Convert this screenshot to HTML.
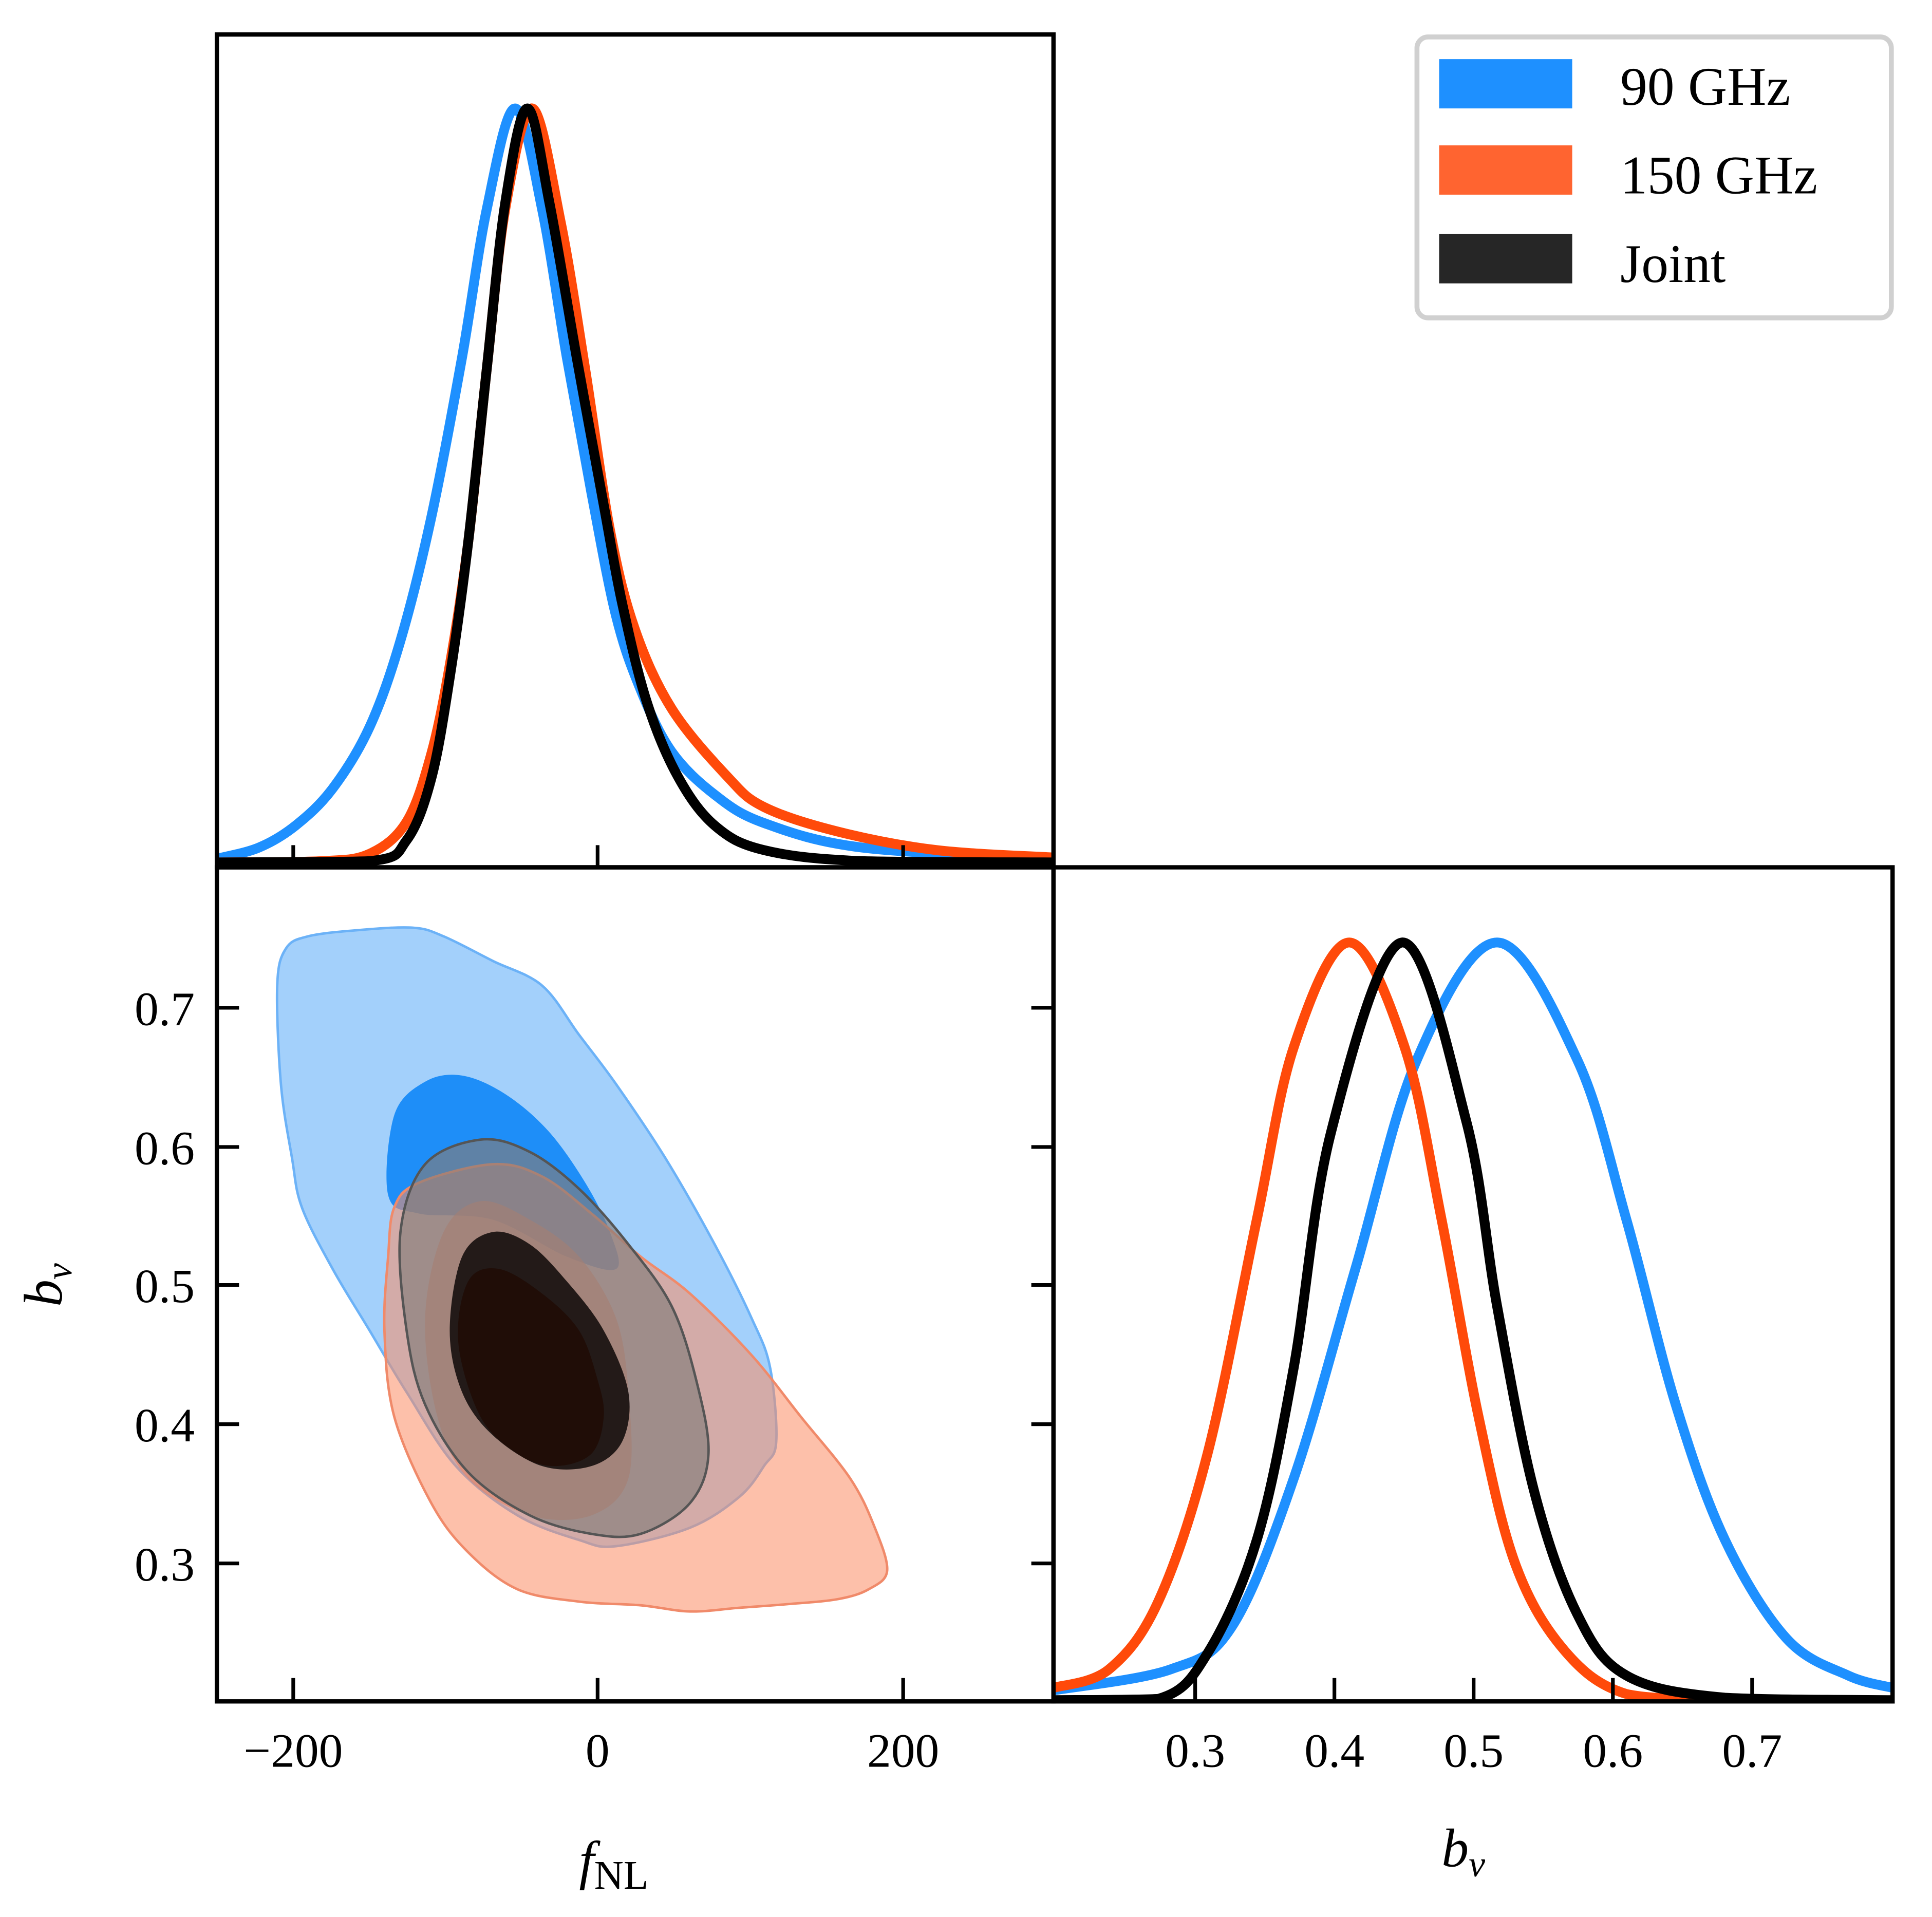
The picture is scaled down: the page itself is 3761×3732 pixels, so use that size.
<!DOCTYPE html>
<html><head><meta charset="utf-8"><style>
html,body{margin:0;padding:0;background:#fff}
svg{display:block}
text{font-family:"Liberation Serif",serif;fill:#000}
</style></head><body>
<svg id="s" width="3761" height="3732" viewBox="0 0 1568 1556" preserveAspectRatio="none" xmlns="http://www.w3.org/2000/svg">
<rect width="1568" height="1556" fill="#fff"/>
<defs><clipPath id="cl"><rect x="176" y="28" width="1360" height="1353"/></clipPath></defs>
<g id="contours"></g>
<g id="curves" clip-path="url(#cl)"></g>
<g fill="none" stroke="#000" stroke-width="3.5">
<rect x="176" y="28" width="679" height="676"/>
<rect x="176" y="704" width="679" height="677"/>
<rect x="855" y="704" width="681" height="677"/>
</g>
<g stroke="#000" stroke-width="3">
<line x1="238" y1="686" x2="238" y2="704"/><line x1="485" y1="686" x2="485" y2="704"/><line x1="733" y1="686" x2="733" y2="704"/>
<line x1="238" y1="1362" x2="238" y2="1381"/><line x1="485" y1="1362" x2="485" y2="1381"/><line x1="733" y1="1362" x2="733" y2="1381"/>
<line x1="176" y1="818" x2="194" y2="818"/><line x1="176" y1="931" x2="194" y2="931"/><line x1="176" y1="1043" x2="194" y2="1043"/><line x1="176" y1="1156" x2="194" y2="1156"/><line x1="176" y1="1269" x2="194" y2="1269"/>
<line x1="837" y1="818" x2="855" y2="818"/><line x1="837" y1="931" x2="855" y2="931"/><line x1="837" y1="1043" x2="855" y2="1043"/><line x1="837" y1="1156" x2="855" y2="1156"/><line x1="837" y1="1269" x2="855" y2="1269"/>
<line x1="970" y1="1362" x2="970" y2="1381"/><line x1="1083" y1="1362" x2="1083" y2="1381"/><line x1="1196" y1="1362" x2="1196" y2="1381"/><line x1="1309" y1="1362" x2="1309" y2="1381"/><line x1="1422" y1="1362" x2="1422" y2="1381"/>
</g>
<g font-size="39">
<text x="238" y="1434" text-anchor="middle">−200</text>
<text x="485" y="1434" text-anchor="middle">0</text>
<text x="733" y="1434" text-anchor="middle">200</text>
<text x="158" y="832" text-anchor="end">0.7</text>
<text x="158" y="945" text-anchor="end">0.6</text>
<text x="158" y="1057" text-anchor="end">0.5</text>
<text x="158" y="1170" text-anchor="end">0.4</text>
<text x="158" y="1283" text-anchor="end">0.3</text>
<text x="970" y="1434" text-anchor="middle">0.3</text>
<text x="1083" y="1434" text-anchor="middle">0.4</text>
<text x="1196" y="1434" text-anchor="middle">0.5</text>
<text x="1309" y="1434" text-anchor="middle">0.6</text>
<text x="1422" y="1434" text-anchor="middle">0.7</text>
</g>
<text x="470" y="1525" font-size="44" font-style="italic">f<tspan font-style="normal" font-size="33" dy="8">NL</tspan></text>
<text x="1170" y="1515" font-size="44" font-style="italic">b<tspan font-size="30" dy="8">v</tspan></text>
<text transform="translate(50,1043) rotate(-90)" font-size="44" font-style="italic" text-anchor="middle">b<tspan font-size="30" dy="8">v</tspan></text>
<rect x="1150" y="30" width="385" height="228" rx="9" fill="#fff" stroke="#d0d0d0" stroke-width="4"/>
<rect x="1168" y="48" width="108" height="40" fill="#1e90ff"/>
<rect x="1168" y="118" width="108" height="40" fill="#ff6430"/>
<rect x="1168" y="190" width="108" height="40" fill="#262626"/>
<g font-size="44">
<text x="1315" y="85">90 GHz</text>
<text x="1315" y="157">150 GHz</text>
<text x="1315" y="229">Joint</text>
</g>
</svg>
<script>
function P(pts,closed,maxY){
 var n=pts.length,d="M"+pts[0][0]+","+pts[0][1];
 var g=function(i){return closed?pts[(i+n)%n]:pts[Math.max(0,Math.min(n-1,i))];};
 var cy=function(v){return maxY?Math.min(v,maxY):v;};
 var m=closed?n:n-1;
 for(var i=0;i<m;i++){var p0=g(i-1),p1=g(i),p2=g(i+1),p3=g(i+2);
  d+=" C"+(p1[0]+(p2[0]-p0[0])/6)+","+cy(p1[1]+(p2[1]-p0[1])/6)+" "+(p2[0]-(p3[0]-p1[0])/6)+","+cy(p2[1]-(p3[1]-p1[1])/6)+" "+p2[0]+","+p2[1];}
 return d+(closed?"Z":"");
}
var NS="http://www.w3.org/2000/svg";
function add(g,pts,closed,attrs,maxY){var e=document.createElementNS(NS,"path");e.setAttribute("d",P(pts,closed,maxY));for(var k in attrs)e.setAttribute(k,attrs[k]);document.getElementById(g).appendChild(e);}
add("contours",[[225,800],[232,770],[250,760],[290,755],[335,753],[360,760],[400,780],[440,800],[470,840],[500,880],[540,940],[580,1010],[610,1070],[625,1110],[630,1170],[620,1190],[600,1215],[560,1240],[500,1255],[470,1250],[420,1230],[370,1190],[330,1130],[300,1080],[270,1030],[245,980],[237,940],[228,880]],true,{fill:"#a3d0fb",stroke:"#6cb2f7","stroke-width":2});
add("contours",[[315,970],[320,905],[345,878],[375,873],[410,888],[445,918],[475,960],[495,1000],[500,1030],[460,1020],[400,990],[340,985]],true,{fill:"#1e8ef8"});
add("contours",[[320,980],[340,960],[400,945],[440,955],[480,985],[520,1020],[560,1050],[610,1100],[650,1150],[690,1200],[710,1240],[720,1275],[705,1290],[680,1298],[640,1302],[600,1305],[560,1308],[520,1303],[470,1300],[420,1290],[380,1260],[350,1220],[320,1150],[312,1080],[315,1020]],true,{fill:"rgba(252,140,100,0.55)",stroke:"#f08a6a","stroke-width":2});
add("contours",[[345,1070],[360,1000],[390,975],[430,990],[470,1020],[500,1070],[510,1130],[510,1200],[480,1230],[430,1230],[380,1200],[355,1150]],true,{fill:"rgba(230,130,100,0.6)"});
add("contours",[[325,1000],[345,945],[390,925],[430,935],[470,965],[510,1010],[545,1060],[565,1120],[575,1180],[560,1220],[520,1245],[480,1245],[430,1230],[380,1195],[345,1140],[330,1080]],true,{fill:"rgba(130,125,122,0.65)",stroke:"#555","stroke-width":2});
add("contours",[[365,1080],[375,1020],[400,1000],[430,1010],[460,1040],[490,1080],[510,1130],[505,1170],[480,1190],[440,1190],[400,1165],[375,1130]],true,{fill:"#231a18"});
add("contours",[[372,1090],[380,1040],[405,1030],[440,1050],[470,1080],[485,1120],[490,1150],[480,1180],[450,1190],[420,1180],[390,1150]],true,{fill:"#200d07"});
var st={fill:"none","stroke-width":8,"stroke-linejoin":"round"};
function c(pts,col,maxY){var a={};for(var k in st)a[k]=st[k];a.stroke=col;add("curves",pts,false,a,maxY);}
c([[176,697],[210,688],[240,670],[270,640],[300,590],[325,520],[350,420],[375,290],[395,170],[418,88],[440,170],[460,290],[480,400],[500,500],[520,560],[545,610],[580,645],[620,668],[700,688],[855,697]],"#1e90ff",700);
c([[176,700],[260,699],[300,693],[330,667],[350,612],[365,540],[380,440],[395,300],[410,170],[432,88],[455,180],[475,300],[495,430],[515,510],[545,575],[590,630],[620,655],[680,675],[760,690],[855,696]],"#ff4a0a",700);
c([[176,700],[300,699],[330,682],[350,632],[365,550],[380,440],[395,300],[410,165],[428,88],[446,165],[468,290],[490,410],[505,490],[525,570],[550,630],[580,670],[620,690],[700,699],[855,700]],"#000",700);
c([[855,1372],[950,1355],[1000,1320],[1050,1200],[1100,1030],[1150,860],[1215,765],[1280,860],[1320,990],[1360,1140],[1400,1250],[1450,1330],[1500,1360],[1536,1370]],"#1e90ff",1380);
c([[855,1370],[900,1355],[940,1300],[980,1180],[1020,990],[1050,850],[1095,765],[1140,850],[1170,990],[1200,1150],[1230,1270],[1270,1340],[1320,1375],[1400,1380]],"#ff4a0a",1380);
c([[855,1380],[940,1379],[980,1342],[1020,1250],[1050,1110],[1080,920],[1138,765],[1190,910],[1215,1060],[1245,1210],[1280,1310],[1320,1360],[1400,1378],[1536,1380]],"#000",1380);
</script>
</body></html>
